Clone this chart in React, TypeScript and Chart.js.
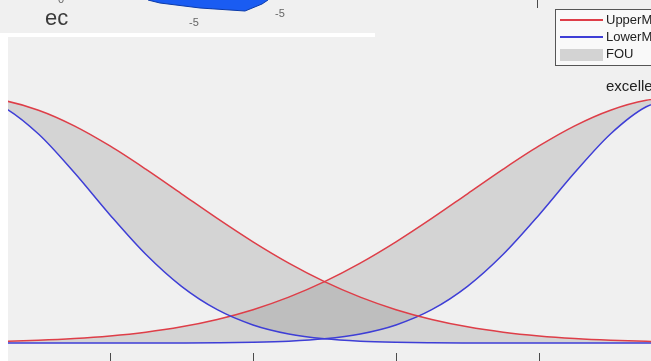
import React, { useEffect, useRef } from "react";
import { Chart, registerables } from "chart.js";

Chart.register(...registerables);

// membership-function samples (x in [0,1])
const xValues = [0, 0.05, 0.1, 0.15, 0.2, 0.25, 0.3, 0.35, 0.4, 0.45, 0.5, 0.55, 0.6, 0.65, 0.7, 0.75, 0.8, 0.85, 0.9, 0.95, 1];
const upperLeft = [1, 0.9862, 0.946, 0.8825, 0.8007, 0.7066, 0.6065, 0.5063, 0.4111, 0.3247, 0.2494, 0.1863, 0.1353, 0.0956, 0.0657, 0.0439, 0.0286, 0.0181, 0.0111, 0.0066, 0.0039];
const lowerLeft = [1, 0.96, 0.8494, 0.6926, 0.5204, 0.3604, 0.2301, 0.1353, 0.0734, 0.0367, 0.0169, 0.0072, 0.0028, 0.001, 0.0003, 0.0001, 0, 0, 0, 0, 0];
const upperRight = [0.0039, 0.0066, 0.0111, 0.0181, 0.0286, 0.0439, 0.0657, 0.0956, 0.1353, 0.1863, 0.2494, 0.3247, 0.4111, 0.5063, 0.6065, 0.7066, 0.8007, 0.8825, 0.946, 0.9862, 1];
const lowerRight = [0, 0, 0, 0, 0, 0.0001, 0.0003, 0.001, 0.0028, 0.0072, 0.0169, 0.0367, 0.0734, 0.1353, 0.2301, 0.3604, 0.5204, 0.6926, 0.8494, 0.96, 1];
const xTickValues = [0.2, 0.4, 0.6, 0.8];
const topTickValues = [0.8];
const legendLabels = ["UpperMF", "LowerMF", "FOU"];
const peakLabel = "excellent";

// fragment of the inset surface plot above
const surfX = [148, 160, 200, 245, 262, 268];
const surfBottom = [0, 3, 8, 11, 4, 0];
const surfLineAX = [188, 212];
const surfLineAY = [0, 8.5];
const surfLineBX = [222, 238];
const surfLineBY = [0, 10];
const insetTexts = ["ec", "0", "-5", "-5"];

const RED = "rgb(222,62,72)";
const BLUE = "rgb(62,62,214)";
const FOU_FILL = "rgba(100,100,100,0.2)";

const toXY = (xs: number[], ys: number[]) => xs.map((x, i) => ({ x, y: ys[i] }));

export default function App() {
  const mainRef = useRef<HTMLCanvasElement | null>(null);
  const insetRef = useRef<HTMLCanvasElement | null>(null);

  useEffect(() => {
    if (!mainRef.current || !insetRef.current) return;

    const tickPlugin = {
      id: "inwardTicks",
      afterDraw(chart: any) {
        const { ctx, chartArea } = chart;
        const xs = chart.scales.x;
        ctx.save();
        ctx.strokeStyle = "#4a4a4a";
        ctx.lineWidth = 1;
        ctx.beginPath();
        xTickValues.forEach((v) => {
          const px = Math.round(xs.getPixelForValue(v)) + 0.5;
          ctx.moveTo(px, chartArea.bottom);
          ctx.lineTo(px, chartArea.bottom - 8);
        });
        topTickValues.forEach((v) => {
          const px = Math.round(xs.getPixelForValue(v)) - 1.5;
          ctx.moveTo(px, chartArea.top);
          ctx.lineTo(px, chartArea.top + 8);
        });
        ctx.stroke();
        ctx.restore();
      },
    };

    const lineDs = (label: string, ys: number[], color: string, fill: any) => ({
      label,
      data: toXY(xValues, ys),
      borderColor: color,
      borderWidth: 1.5,
      pointRadius: 0,
      cubicInterpolationMode: "monotone" as const,
      fill,
      backgroundColor: FOU_FILL,
    });

    const main = new Chart(mainRef.current, {
      type: "line",
      data: {
        datasets: [
          lineDs("UpperMF", upperLeft, RED, "+1"),
          lineDs("LowerMF", lowerLeft, BLUE, false),
          lineDs("UpperMF", upperRight, RED, "+1"),
          lineDs("LowerMF", lowerRight, BLUE, false),
        ],
      },
      options: {
        responsive: false,
        animation: false,
        devicePixelRatio: 1,
        layout: { padding: 0 },
        plugins: {
          legend: { display: false },
          tooltip: { enabled: false },
          filler: { drawTime: "beforeDatasetsDraw" },
        },
        scales: {
          x: { type: "linear", display: false, min: 0.05734, max: 0.95664 },
          y: { type: "linear", display: false, min: -0.0732, max: 1.394 },
        },
      },
      plugins: [tickPlugin],
    });

    const inset = new Chart(insetRef.current, {
      type: "line",
      data: {
        datasets: [
          {
            data: toXY(surfX, surfBottom),
            borderColor: "#0b3aa8",
            borderWidth: 1,
            pointRadius: 0,
            tension: 0,
            fill: { value: 0 },
            backgroundColor: "#1a5cf2",
          },
          {
            data: toXY(surfLineAX, surfLineAY),
            borderColor: "#0b3aa8",
            borderWidth: 1,
            pointRadius: 0,
            fill: false,
          },
          {
            data: toXY(surfLineBX, surfLineBY),
            borderColor: "#0b3aa8",
            borderWidth: 1,
            pointRadius: 0,
            fill: false,
          },
        ],
      },
      options: {
        responsive: false,
        animation: false,
        devicePixelRatio: 1,
        layout: { padding: 0 },
        plugins: { legend: { display: false }, tooltip: { enabled: false } },
        scales: {
          x: { type: "linear", display: false, min: 0, max: 375 },
          y: { type: "linear", display: false, min: 0, max: 33, reverse: true },
        },
      },
    });

    return () => {
      main.destroy();
      inset.destroy();
    };
  }, []);

  const font = "'Liberation Sans', Arial, Helvetica, sans-serif";
  const abs = (s: React.CSSProperties): React.CSSProperties => ({ position: "absolute", ...s });

  return (
    <div style={abs({ left: 0, top: 0, width: 651, height: 361, background: "#ffffff", overflow: "hidden", fontFamily: font })}>
      <canvas ref={mainRef} width={643} height={361} style={abs({ left: 8, top: 0, width: 643, height: 361, background: "#f0f0f0", display: "block" })} />

      {/* inset fragment of the upper figure */}
      <div style={abs({ left: 0, top: 0, width: 375, height: 37, background: "#ffffff" })} />
      <canvas ref={insetRef} width={375} height={33} style={abs({ left: 0, top: 0, width: 375, height: 33, background: "#f0f0f0", display: "block" })} />
      <div style={abs({ left: 45, top: 7, fontSize: 22, lineHeight: "22px", color: "#3a3a3a", whiteSpace: "nowrap" })}>{insetTexts[0]}</div>
      <div style={abs({ left: 58, top: -6, fontSize: 11, lineHeight: "11px", color: "#666", whiteSpace: "nowrap" })}>{insetTexts[1]}</div>
      <div style={abs({ left: 189, top: 17, fontSize: 11, lineHeight: "11px", color: "#666", whiteSpace: "nowrap" })}>{insetTexts[2]}</div>
      <div style={abs({ left: 275, top: 8, fontSize: 11, lineHeight: "11px", color: "#666", whiteSpace: "nowrap" })}>{insetTexts[3]}</div>

      {/* legend */}
      <div style={abs({ left: 555, top: 9, width: 130, height: 55, border: "1px solid #555", background: "#f9f9f9" })} />
      <div style={abs({ left: 560, top: 19, width: 43, height: 2, background: RED })} />
      <div style={abs({ left: 560, top: 36, width: 43, height: 2, background: BLUE })} />
      <div style={abs({ left: 560, top: 49, width: 43, height: 12, background: "#d3d3d3" })} />
      {legendLabels.map((t, i) => (
        <div key={t} style={abs({ left: 606, top: 12 + i * 17, fontSize: 13, lineHeight: "15px", color: "#222", whiteSpace: "nowrap" })}>{t}</div>
      ))}

      <div style={abs({ left: 606, top: 77, fontSize: 15, lineHeight: "17px", color: "#222", whiteSpace: "nowrap" })}>{peakLabel}</div>
    </div>
  );
}
